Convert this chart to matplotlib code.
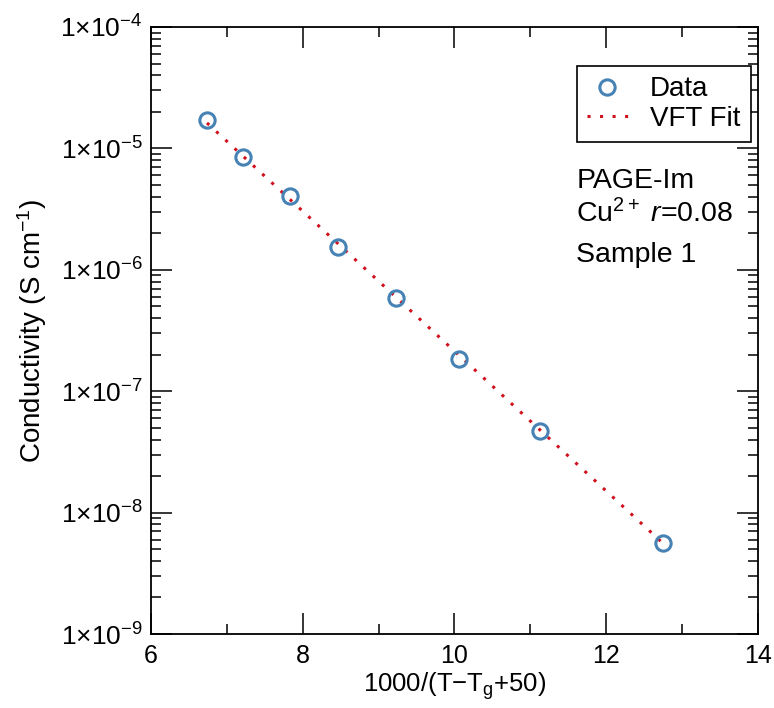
import matplotlib
matplotlib.use("Agg")
import matplotlib.pyplot as plt
from matplotlib.ticker import LogLocator, FixedLocator, FuncFormatter, NullFormatter
import numpy as np

plt.rcParams['font.family'] = ['Liberation Sans', 'DejaVu Sans']
plt.rcParams['mathtext.fontset'] = 'custom'
plt.rcParams['mathtext.rm'] = 'Liberation Sans'
plt.rcParams['mathtext.it'] = 'Liberation Sans:italic'
plt.rcParams['mathtext.sf'] = 'Liberation Sans'

# Data
x_data = [6.738, 7.212, 7.831, 8.464, 9.228, 10.058, 11.125, 12.746]
y_data = [1.71e-5, 8.5e-6, 4.05e-6, 1.54e-6, 5.86e-7, 1.84e-7, 4.70e-8, 5.6e-9]
fit_x = [6.738, 12.746]
fit_y = [1.62e-5, 5.6e-9]

x_ticks = [6, 8, 10, 12, 14]
x_minor = [7, 9, 11, 13]
y_exps = [-9, -8, -7, -6, -5, -4]

fig = plt.figure(figsize=(7.74, 7.08), dpi=100)
ax = fig.add_axes([0.1951, 0.1045, 0.7842, 0.8574])

ax.plot(fit_x, fit_y, linestyle=(0, (1, 3.1)), color='#d0101c', lw=2.2, label='VFT Fit', zorder=2)
ax.plot(x_data, y_data, linestyle='none', marker='o', markersize=11, markerfacecolor='none',
        markeredgecolor='#4682b4', markeredgewidth=2.2, label='Data', zorder=3)

ax.set_yscale('log')
ax.set_xlim(6, 14)
ax.set_ylim(1e-9, 1e-4)

ax.xaxis.set_major_locator(FixedLocator(x_ticks))
ax.xaxis.set_minor_locator(FixedLocator(x_minor))
ax.yaxis.set_major_locator(FixedLocator([10.0**e for e in y_exps]))
ax.yaxis.set_minor_locator(LogLocator(base=10, subs=np.arange(2, 10), numticks=20))
ax.yaxis.set_minor_formatter(NullFormatter())

def yfmt(v, pos):
    e = int(round(np.log10(v)))
    return r'$\mathregular{1{\times}10^{%d}}$' % e
ax.yaxis.set_major_formatter(FuncFormatter(yfmt))

ax.tick_params(which='both', direction='in', top=True, right=True, width=1.1)
ax.tick_params(which='major', length=15, labelsize=18, pad=7)
ax.tick_params(which='minor', length=7.5)
ax.tick_params(axis='y', which='major', labelsize=19, pad=6)
for s in ax.spines.values():
    s.set_linewidth(1.3)

ax.set_xlabel(r'1000/(T$-$T$_{\mathregular{g}}$+50)', fontsize=18.5, labelpad=2)
ax.set_ylabel(r'Conductivity (S cm$^{\mathregular{-1}}$)', fontsize=20, labelpad=8)

handles, labels = ax.get_legend_handles_labels()
leg = ax.legend(handles[::-1], labels[::-1], loc='upper right', bbox_to_anchor=(0.988, 0.936),
                borderaxespad=0, fontsize=20, frameon=True, fancybox=False, edgecolor='black',
                framealpha=1, handlelength=1.45, handletextpad=0.8, borderpad=0.38,
                labelspacing=0.12)
leg.get_frame().set_linewidth(1.2)

ax.text(0.701, 0.7348, 'PAGE-Im', transform=ax.transAxes, fontsize=20.5, va='baseline', ha='left')
ax.text(0.701, 0.6787, r'Cu$^{\mathregular{2+}}$ $r$=0.08', transform=ax.transAxes, fontsize=20.5, va='baseline', ha='left')
ax.text(0.701, 0.6129, 'Sample 1', transform=ax.transAxes, fontsize=20.5, va='baseline', ha='left')

fig.savefig('out.png', dpi=100)
